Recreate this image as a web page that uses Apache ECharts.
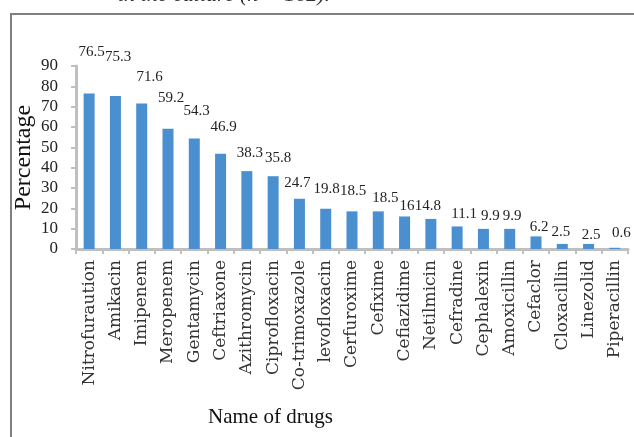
<!DOCTYPE html>
<html>
<head>
<meta charset="utf-8">
<script src="https://cdn.jsdelivr.net/npm/echarts@6/dist/echarts.min.js"></script>
<style>
  html, body { margin: 0; padding: 0; background: #fff; }
  #chart { width: 634px; height: 437px; }
</style>
</head>
<body>
<div id="chart"></div>
<script>
// Drug names along the x axis
const drugs = [
  'Nitrofuraution', 'Amikacin', 'Imipenem', 'Meropenem', 'Gentamycin',
  'Ceftriaxone', 'Azithromycin', 'Ciprofloxacin', 'Co-trimoxazole', 'levofloxacin',
  'Cerfuroxime', 'Cefixime', 'Cefiazidime', 'Netilmicin', 'Cefradine',
  'Cephalexin', 'Amoxicillin', 'Cefaclor', 'Cloxacillin', 'Linezolid', 'Piperacillin'
];

// Percentage for each drug
const percentages = [
  76.5, 75.3, 71.6, 59.2, 54.3,
  46.9, 38.3, 35.8, 24.7, 19.8,
  18.5, 18.5, 16, 14.8, 11.1,
  9.9, 9.9, 6.2, 2.5, 2.5, 0.6
];

// Y axis range and step
const yMin = 0;
const yMax = 90;
const yStep = 10;

// Value-label nudges [dx, dy] so labels sit like the original layout
const labelNudges = [
  [2.5, -33.5], [2.7, -31.5], [8, -18.5], [3, -23.5], [2.3, -20.5],
  [3, -19.5], [3, -10.5], [5, -10.5], [-2, -8.5], [1, -12.5],
  [1, -12.5], [7, -5.5], [2.5, -2.5], [-3, -5.5], [7, -4.5],
  [7, -5.5], [2.5, -5.5], [3, -1.5], [-1.5, -4.5], [2.5, -1.5], [6.5, -7.5]
];

const serif = '"Liberation Serif", "Times New Roman", serif';
const axisGray = '#bfbfbf';

const chart = echarts.init(document.getElementById('chart'), null, { renderer: 'canvas' });

chart.setOption({
  animation: false,
  backgroundColor: '#ffffff',
  title: [
    {
      text: 'in the culture (n = 162).',
      left: 113,
      top: -21,
      textStyle: { fontFamily: serif, fontStyle: 'italic', fontWeight: 'normal', fontSize: 22, color: '#333' }
    },
    {
      text: 'Name of drugs',
      left: 203,
      top: 402,
      textStyle: { fontFamily: serif, fontWeight: 'normal', fontSize: 21, color: '#111' }
    }
  ],
  graphic: [
    {
      type: 'rect',
      shape: { x: 11, y: 14, width: 700, height: 500 },
      style: { fill: 'none', stroke: '#7f7f7f', lineWidth: 2 },
      silent: true
    }
  ],
  grid: { left: 76, right: 6, top: 66, bottom: 188, containLabel: false },
  xAxis: {
    type: 'category',
    data: drugs,
    boundaryGap: true,
    axisLine: { show: true, lineStyle: { color: axisGray, width: 3 } },
    axisTick: { show: true, interval: 0, length: 5, lineStyle: { color: axisGray, width: 2 } },
    axisLabel: {
      interval: 0,
      rotate: 90,
      margin: 11,
      fontFamily: '"DejaVu Serif", serif',
      fontSize: 17,
      color: '#333'
    },
    splitLine: { show: false }
  },
  yAxis: {
    type: 'value',
    min: yMin,
    max: yMax,
    interval: yStep,
    name: 'Percentage',
    nameLocation: 'middle',
    nameGap: 40,
    nameMoveOverlap: false,
    nameRotate: 90,
    nameTextStyle: { fontFamily: serif, fontSize: 24, color: '#111' },
    axisLine: { show: true, lineStyle: { color: axisGray, width: 3 } },
    axisTick: { show: true, length: 5, lineStyle: { color: axisGray, width: 2 } },
    axisLabel: { margin: 18, fontFamily: serif, fontSize: 17, color: '#222' },
    splitLine: { show: false }
  },
  series: [
    {
      type: 'bar',
      barWidth: 11,
      itemStyle: { color: '#4a8fcf' },
      data: percentages.map((v, i) => ({
        value: v,
        label: { offset: labelNudges[i] }
      })),
      label: {
        show: true,
        position: 'top',
        distance: 0,
        fontFamily: serif,
        fontSize: 15,
        lineHeight: 15,
        color: '#222'
      }
    }
  ]
});
</script>
</body>
</html>
